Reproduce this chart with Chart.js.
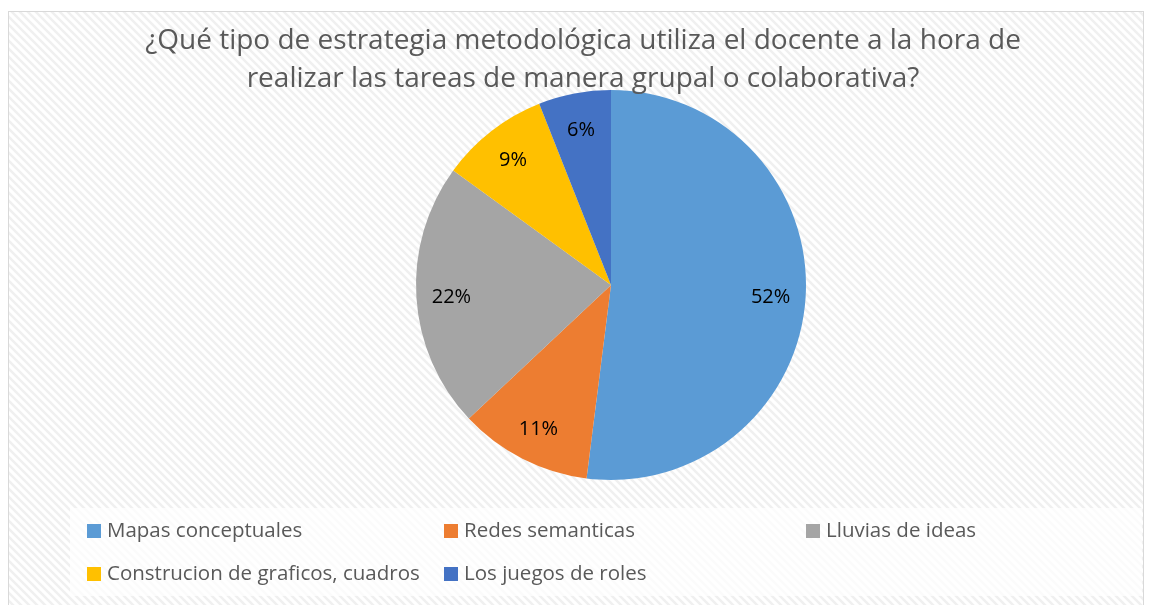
<!DOCTYPE html>
<html>
<head>
<meta charset="utf-8">
<script src="https://cdn.jsdelivr.net/npm/chart.js@4/dist/chart.umd.min.js"></script>
<style>
  html, body { margin: 0; padding: 0; background: #ffffff; }
  #wrap { position: relative; width: 1154px; height: 605px; }
</style>
</head>
<body>
<div id="wrap"><canvas id="chart" width="1154" height="605"></canvas></div>
<script>
// Data
const titleLines = [
  '¿Qué tipo de estrategia metodológica utiliza el docente a la hora de',
  'realizar las tareas de manera grupal o colaborativa?'
];
const categories = ['Mapas conceptuales', 'Redes semanticas', 'Lluvias de ideas', 'Construcion de graficos, cuadros', 'Los juegos de roles'];
const percentages = [52, 11, 22, 9, 6];
const sliceColours = ['#5b9bd5', '#ed7d31', '#a5a5a5', '#ffc000', '#4472c4'];

const fontFamily = '"Open Sans", "Noto Sans", sans-serif';

// Diagonal hatch used by the chart frame
function hatchPattern(ctx, alpha) {
  const c = document.createElement('canvas');
  c.width = 8; c.height = 8;
  const p = c.getContext('2d');
  p.fillStyle = '#ffffff';
  p.fillRect(0, 0, 8, 8);
  p.strokeStyle = 'rgba(225,225,225,' + alpha + ')';
  p.lineWidth = 2.5;
  p.beginPath();
  p.moveTo(-2, -2); p.lineTo(10, 10);
  p.moveTo(-10, -2); p.lineTo(2, 10);
  p.moveTo(6, -2); p.lineTo(18, 10);
  p.stroke();
  return ctx.createPattern(c, 'repeat');
}

// Background, frame and legend box
const framePlugin = {
  id: 'frame',
  beforeDraw(chart) {
    const ctx = chart.ctx;
    ctx.save();
    ctx.fillStyle = '#ffffff';
    ctx.fillRect(0, 0, chart.width, chart.height);
    ctx.fillStyle = hatchPattern(ctx, 0.5);
    ctx.fillRect(8, 11, 1136, 600);
    ctx.strokeStyle = '#d9d9d9';
    ctx.lineWidth = 1;
    ctx.strokeRect(8.5, 11.5, 1135, 600);
    // legend box
    ctx.fillStyle = 'rgba(255,255,255,0.75)';
    ctx.fillRect(70, 508, 1072, 88);
    ctx.restore();
  }
};

// Title drawn as two centred lines
const titlePlugin = {
  id: 'titleLines',
  afterDraw(chart) {
    const ctx = chart.ctx;
    ctx.save();
    ctx.fillStyle = '#595959';
    ctx.font = '28px ' + fontFamily;
    ctx.textAlign = 'center';
    ctx.textBaseline = 'alphabetic';
    ctx.fillText(titleLines[0], 583, 49);
    ctx.fillText(titleLines[1], 583, 87);
    ctx.restore();
  }
};

// Percentage labels placed near the outer edge of each slice
const sliceLabelPlugin = {
  id: 'sliceLabels',
  afterDatasetsDraw(chart) {
    const ctx = chart.ctx;
    const meta = chart.getDatasetMeta(0);
    ctx.save();
    ctx.fillStyle = '#000000';
    ctx.font = '20px ' + fontFamily;
    ctx.textAlign = 'center';
    ctx.textBaseline = 'middle';
    meta.data.forEach((arc, i) => {
      const p = arc.getProps(['x', 'y', 'startAngle', 'endAngle', 'outerRadius'], true);
      const mid = (p.startAngle + p.endAngle) / 2;
      const r = p.outerRadius * 0.82;
      ctx.fillText(percentages[i] + '%', p.x + Math.cos(mid) * r, p.y + Math.sin(mid) * r + 2);
    });
    ctx.restore();
  }
};

// Legend laid out as a three-column grid
const legendPlugin = {
  id: 'gridLegend',
  afterDraw(chart) {
    const ctx = chart.ctx;
    const colX = [87, 444, 806];
    const rowY = [531, 574];
    ctx.save();
    ctx.font = '20.5px ' + fontFamily;
    ctx.textBaseline = 'middle';
    ctx.textAlign = 'left';
    categories.forEach((label, i) => {
      const x = colX[i % 3];
      const y = rowY[Math.floor(i / 3)];
      ctx.fillStyle = sliceColours[i];
      ctx.fillRect(x, y - 7, 14, 14);
      ctx.fillStyle = '#595959';
      ctx.fillText(label, x + 20, y);
    });
    ctx.restore();
  }
};

new Chart(document.getElementById('chart').getContext('2d'), {
  type: 'pie',
  data: {
    labels: categories,
    datasets: [{
      data: percentages,
      backgroundColor: sliceColours,
      borderWidth: 0
    }]
  },
  options: {
    responsive: false,
    animation: false,
    layout: {
      padding: { top: 90, bottom: 125, left: 300, right: 232 }
    },
    plugins: {
      legend: { display: false },
      title: { display: false },
      tooltip: { enabled: false }
    }
  },
  plugins: [framePlugin, sliceLabelPlugin, titlePlugin, legendPlugin]
});
</script>
</body>
</html>
